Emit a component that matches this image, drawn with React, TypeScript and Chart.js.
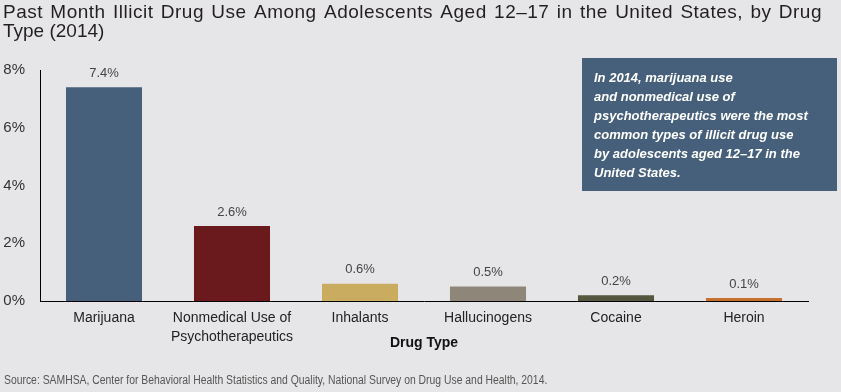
import React, { useEffect, useRef } from "react";
import { Chart, registerables } from "chart.js";

Chart.register(...registerables);

const titleLines = [
  "Past Month Illicit Drug Use Among Adolescents Aged 12–17 in the United States, by Drug",
  "Type (2014)",
];
const categories: string[][] = [
  ["Marijuana"],
  ["Nonmedical Use of", "Psychotherapeutics"],
  ["Inhalants"],
  ["Hallucinogens"],
  ["Cocaine"],
  ["Heroin"],
];
const values = [7.4, 2.6, 0.6, 0.5, 0.2, 0.1];
const barColors = ["#465f7a", "#6a191d", "#c9ac5f", "#8e8679", "#55573f", "#c8702e"];
const yTicks = [0, 2, 4, 6, 8];
const xAxisTitle = "Drug Type";
const noteLines = [
  "In 2014, marijuana use",
  "and nonmedical use of",
  "psychotherapeutics were the most",
  "common types of illicit drug use",
  "by adolescents aged 12–17 in the",
  "United States.",
];
const sourceText =
  "Source: SAMHSA, Center for Behavioral Health Statistics and Quality, National Survey on Drug Use and Health, 2014.";

const BG = "#e6e6e8";
const SANS = "'Liberation Sans', Arial, Helvetica, sans-serif";

function drawJustified(ctx: any, text: string, x: number, y: number, width: number) {
  const words = text.split(" ");
  const total = words.reduce((s, w) => s + ctx.measureText(w).width, 0);
  const gap = (width - total) / (words.length - 1);
  let cx = x;
  words.forEach((w) => {
    ctx.fillText(w, cx, y);
    cx += ctx.measureText(w).width + gap;
  });
}

const decorPlugin = {
  id: "decor",
  beforeDraw(chart: any) {
    const ctx = chart.ctx;
    ctx.save();
    ctx.fillStyle = BG;
    ctx.fillRect(0, 0, chart.width, chart.height);
    ctx.restore();
  },
  afterDraw(chart: any) {
    const ctx = chart.ctx;
    const area = chart.chartArea;
    ctx.save();
    // title (first line justified)
    ctx.fillStyle = "#231f20";
    ctx.font = `19px ${SANS}`;
    ctx.textAlign = "left";
    ctx.textBaseline = "alphabetic";
    ctx.letterSpacing = "0.5px";
    drawJustified(ctx, titleLines[0], 3, 18, 819);
    ctx.letterSpacing = "0px";
    ctx.fillText(titleLines[1], 3, 36.5);

    // value labels
    const meta = chart.getDatasetMeta(0);
    ctx.fillStyle = "#444";
    ctx.font = `13px ${SANS}`;
    ctx.textAlign = "center";
    ctx.textBaseline = "middle";
    meta.data.forEach((bar: any, i: number) => {
      ctx.fillText(values[i].toFixed(1) + "%", bar.x, bar.y - 14);
    });

    // axis title
    ctx.fillStyle = "#111";
    ctx.font = `bold 14px ${SANS}`;
    ctx.fillText(xAxisTitle, (area.left + area.right) / 2, 343);

    // note box
    ctx.fillStyle = "#465f7a";
    ctx.fillRect(582, 58, 255, 133);
    ctx.fillStyle = "#ffffff";
    ctx.font = `italic bold 13px ${SANS}`;
    ctx.textAlign = "left";
    ctx.textBaseline = "middle";
    noteLines.forEach((t, i) => ctx.fillText(t, 594, 78 + i * 19));

    // source (condensed)
    ctx.fillStyle = "#555";
    ctx.font = `12px ${SANS}`;
    ctx.translate(4, 381);
    ctx.scale(0.865, 1);
    ctx.fillText(sourceText, 0, 0);
    ctx.restore();
  },
};

export default function App() {
  const ref = useRef<HTMLCanvasElement>(null);
  useEffect(() => {
    document.body.style.margin = "0";
    const chart = new Chart(ref.current!, {
      type: "bar",
      data: {
        labels: categories,
        datasets: [
          {
            data: values,
            backgroundColor: barColors,
            borderWidth: 0,
            barPercentage: 0.594,
            categoryPercentage: 1,
          },
        ],
      },
      options: {
        responsive: false,
        animation: false,
        layout: { padding: { top: 70, right: 33, left: 0, bottom: 0 } },
        plugins: { legend: { display: false }, tooltip: { enabled: false }, title: { display: false } },
        scales: {
          x: {
            grid: { display: false, drawTicks: false },
            border: { display: true, color: "#000", width: 1 },
            ticks: {
              color: "#222",
              font: { family: SANS, size: 14, lineHeight: 1.35 },
              padding: 8,
              maxRotation: 0,
              autoSkip: false,
            },
            afterFit(scale: any) {
              scale.height = 91;
            },
          },
          y: {
            min: 0,
            max: 8,
            grid: { display: false, drawTicks: false },
            border: { display: true, color: "#000", width: 1 },
            afterBuildTicks(scale: any) {
              scale.ticks = yTicks.map((v) => ({ value: v }));
            },
            ticks: {
              color: "#333",
              font: { family: SANS, size: 15 },
              padding: 15,
              callback: (v: any) => v + "%",
            },
            afterFit(scale: any) {
              scale.width = 40;
            },
          },
        },
      },
      plugins: [decorPlugin],
    });
    return () => chart.destroy();
  }, []);
  return (
    <div style={{ position: "absolute", left: 0, top: 0, width: 841, height: 392 }}>
      <canvas ref={ref} width={841} height={392} style={{ width: 841, height: 392 }} />
    </div>
  );
}
